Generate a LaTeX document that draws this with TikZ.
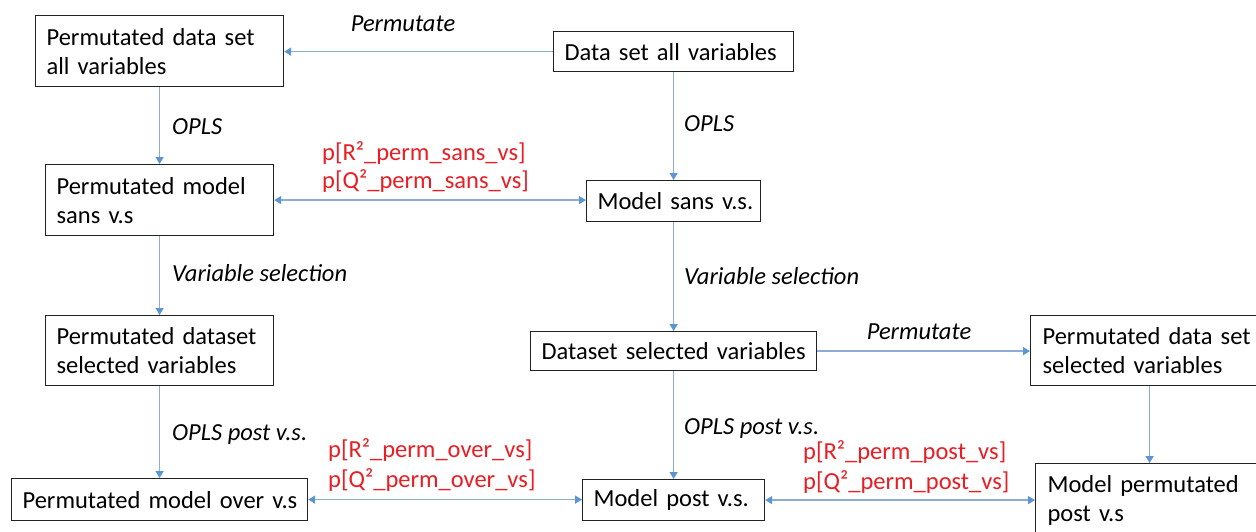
\documentclass[tikz,border=0pt]{standalone}
\usepackage{fontspec}
\setmainfont{Carlito}
\usetikzlibrary{arrows.meta}
\definecolor{flowline}{RGB}{140,172,212}
\definecolor{flowhead}{RGB}{91,150,210}
\definecolor{pval}{RGB}{232,30,36}
\definecolor{boxline}{RGB}{35,35,35}
\newcommand{\diagfont}{\fontsize{24.5}{29}\selectfont}
\begin{document}
\begin{tikzpicture}[x=1pt,y=-1pt,
  box/.style={draw=boxline, line width=1.2pt, anchor=north west,
    inner xsep=11pt, inner ysep=0pt, align=left, font=\diagfont},
  flow/.style={draw=flowline, line width=1.4pt,
    -{Triangle[width=8pt,length=7pt,color=flowhead]}},
  twoway/.style={draw=flowline, line width=1.4pt,
    {Triangle[width=8pt,length=7pt,color=flowhead]}-{Triangle[width=8pt,length=7pt,color=flowhead]}},
  steplabel/.style={font=\diagfont\itshape, text=black, inner sep=0pt, anchor=base west},
  pvalue/.style={font=\diagfont, text=pval, inner sep=0pt, anchor=base west}]
\useasboundingbox (0,0) rectangle (1256,531);
\clip (0,0) rectangle (1256,531);

% boxes
\node[box, minimum width=248pt, text width=226pt, minimum height=71pt] (A) at (35,15)
  {Permutated data set\\all variables};
\node[box, minimum width=240pt, text width=218pt, minimum height=40pt] (B) at (553,31)
  {\mbox{Data set all variables}};
\node[box, minimum width=228pt, text width=206pt, minimum height=71pt] (C) at (45,164)
  {Permutated model\\sans v.s};
\node[box, minimum width=174pt, text width=152pt, minimum height=41pt] (D) at (586,180)
  {\mbox{Model sans v.s.}};
\node[box, minimum width=228pt, text width=206pt, minimum height=70pt] (E) at (45,315)
  {\mbox{Permutated dataset}\\\mbox{selected variables}};
\node[box, minimum width=286pt, text width=264pt, minimum height=39pt] (F) at (530,331)
  {\mbox{Dataset selected variables}};
\node[box, inner xsep=12pt, minimum width=238pt, text width=214pt, minimum height=70pt] (G) at (1030,315)
  {\mbox{Permutated data set}\\\mbox{selected variables}};
\node[box, inner xsep=12pt, minimum width=240pt, text width=216pt, minimum height=74pt] (H) at (1035,463)
  {Model permutated\\post v.s};
\node[box, minimum width=296pt, text width=274pt, minimum height=42pt] (I) at (11,478)
  {\mbox{Permutated model over v.s}};
\node[box, minimum width=182pt, text width=160pt, minimum height=41pt] (J) at (582,479)
  {\mbox{Model post v.s.}};

% connectors
\draw[flow] (B.west) -- (B.west -| A.east);
\draw[flow] (A.south) -- (A.south |- C.north);
\draw[flow] (B.south) -- (B.south |- D.north);
\draw[twoway] (C.east) -- (C.east -| D.west);
\draw[flow] (C.south) -- (C.south |- E.north);
\draw[flow] (D.south) -- (D.south |- F.north);
\draw[flow] (F.east) -- (F.east -| G.west);
\draw[flow] (G.south) -- (G.south |- H.north);
\draw[flow] (E.south) -- (E.south |- I.north);
\draw[flow] (F.south) -- (F.south |- J.north);
\draw[twoway] (I.east) -- (I.east -| J.west);
\draw[twoway] (J.east) -- (J.east -| H.west);

% step labels
\node[steplabel, anchor=base] (perm1) at (403,31) {Permutate};
\node[steplabel] (opls1) at (172,134) {OPLS};
\node[steplabel] (opls2) at (684,131) {OPLS};
\node[steplabel] (vs1) at (172,281) {Variable selection};
\node[steplabel] (vs2) at (684,284) {Variable selection};
\node[steplabel, anchor=base] (perm2) at (919,339) {Permutate};
\node[steplabel] (post1) at (172,440) {OPLS post v.s.};
\node[steplabel] (post2) at (684,434) {OPLS post v.s.};

% permutation p-values
\node[pvalue] (psansR) at (322,160) {p[R²\_perm\_sans\_vs]};
\node[pvalue] (psansQ) at (322,188) {p[Q²\_perm\_sans\_vs]};
\node[pvalue] (poverR) at (328,457) {p[R²\_perm\_over\_vs]};
\node[pvalue] (poverQ) at (328,487) {p[Q²\_perm\_over\_vs]};
\node[pvalue] (ppostR) at (803,459) {p[R²\_perm\_post\_vs]};
\node[pvalue] (ppostQ) at (803,489) {p[Q²\_perm\_post\_vs]};
\end{tikzpicture}
\end{document}
